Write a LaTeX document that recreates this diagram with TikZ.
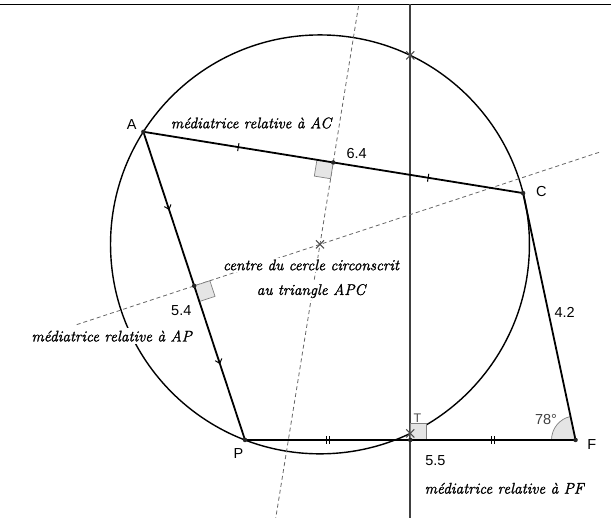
\documentclass[tikz,border=0pt]{standalone}
\usepackage{fontspec}
\newfontfamily\labelfont{Liberation Sans}
\newfontfamily\notefont[FakeBold=1.4]{Latin Modern Roman}
\usetikzlibrary{calc,decorations.markings,shapes.misc}

\begin{document}
\begin{tikzpicture}[
  x=60.1pt, y=60.1pt,
  side/.style={line width=1.8pt, draw=black},
  cercle/.style={line width=1.4pt, draw=black},
  mediane/.style={line width=1.8pt, draw=black!75},
  pointille/.style={line width=0.8pt, draw=black!60, dash pattern=on 4pt off 3pt},
  angbox/.style={fill=black!10, draw=black!50, line width=0.7pt},
  ptdot/.style={circle, fill=black!85, inner sep=0pt, minimum size=4.5pt},
  croix/.style={cross out, draw=black!70, line width=1.1pt, inner sep=0pt, minimum size=7pt},
  lbl/.style={font=\labelfont\fontsize{14.5}{16}\selectfont, inner sep=0pt},
  note/.style={font=\notefont\fontsize{15.4}{18}\selectfont\itshape, fill=white, inner sep=2pt},
  tick/.style={postaction={decorate}, decoration={markings,
    mark=at position 0.25 with {\draw[line width=1pt] (0,-4pt) -- (0,4pt);},
    mark=at position 0.75 with {\draw[line width=1pt] (0,-4pt) -- (0,4pt);}}},
  doubletick/.style={postaction={decorate}, decoration={markings,
    mark=at position 0.25 with {\draw[line width=1pt] (-1.5pt,-4pt) -- (-1.5pt,4pt) (1.5pt,-4pt) -- (1.5pt,4pt);},
    mark=at position 0.75 with {\draw[line width=1pt] (-1.5pt,-4pt) -- (-1.5pt,4pt) (1.5pt,-4pt) -- (1.5pt,4pt);}}},
  chevron/.style={postaction={decorate}, decoration={markings,
    mark=at position 0.25 with {\draw[line width=1pt] (-3.5pt,-3.5pt) -- (0.5pt,0) -- (-3.5pt,3.5pt);},
    mark=at position 0.75 with {\draw[line width=1pt] (-3.5pt,-3.5pt) -- (0.5pt,0) -- (-3.5pt,3.5pt);}}}
]
  \useasboundingbox (-4.077,-1.298) rectangle (6.090,7.321);

  % sommets (PF = 5.5, AP = 5.4, AC = 6.4, CF = 4.2)
  \coordinate (P) at (0,0);
  \coordinate (F) at (5.5,0);
  \coordinate (C) at (4.627,4.108);
  \coordinate (A) at (108.25:5.4);
  \coordinate (O) at (1.2475,3.2545);
  \coordinate (Mac) at ($(A)!0.5!(C)$);
  \coordinate (Map) at ($(A)!0.5!(P)$);
  \coordinate (Mpf) at ($(P)!0.5!(F)$);
  \coordinate (X1) at (2.75,6.399);
  \coordinate (X2) at (2.75,0.1096);

  % cadre
  \coordinate (hg) at (-4.077,7.247);
  \coordinate (hd) at (6.090,7.247);
  \draw[line width=1.2pt] (hg) -- (hd);

  % cercle circonscrit
  \draw[cercle] (O) circle (3.4854);

  % médiatrices
  \coordinate (Vh) at (2.75,7.247);
  \coordinate (Vb) at (2.75,-1.298);
  \draw[mediane] (Vh) -- (Vb);
  \draw[pointille] ($(Mac)!-1.908!(O)$) -- ($(Mac)!4.340!(O)$);
  \draw[pointille] ($(Map)!-0.934!(O)$) -- ($(Map)!3.24!(O)$);

  % angles droits
  \foreach \m/\u/\v in {Mac/A/O, Map/P/O, Mpf/F/X1} {
    \coordinate (q1) at ($(\m)!16.5pt!(\u)$);
    \coordinate (q2) at ($(\m)!16.5pt!(\v)$);
    \filldraw[angbox] (\m) -- (q1) -- ($(q1)+(q2)-(\m)$) -- (q2) -- cycle;
  }
  \filldraw[angbox] (F) -- ++(180:0.4) arc[start angle=180, end angle=102, radius=0.4] -- cycle;

  % côtés
  \draw[side, tick] (A) -- (C);
  \draw[side] (C) -- (F);
  \draw[side, doubletick] (P) -- (F);
  \draw[side, chevron] (A) -- (P);

  % points
  \foreach \p in {A, C, P, F, Mac, Map, Mpf}
    \node[ptdot] (d\p) at (\p) {};
  \node[croix] (cO) at (O) {};
  \node[croix] (cX1) at (X1) {};
  \node[croix] (cX2) at (X2) {};

  % étiquettes
  \node[lbl] (labA) at (-1.885,5.246) {A};
  \node[lbl] (labC) at (4.930,4.131) {C};
  \node[lbl] (labP) at (-0.108,-0.233) {P};
  \node[lbl] (labF) at (5.769,-0.083) {F};
  \node[lbl] (lAC) at (1.858,4.764) {6.4};
  \node[lbl] (lAP) at (-1.060,2.151) {5.4};
  \node[lbl] (lCF) at (5.319,2.125) {4.2};
  \node[lbl] (lPF) at (3.167,-0.344) {5.5};
  \node[lbl, text=black!75] (angF) at (5.008,0.333) {78°};
  \node[lbl, text=black!70, font=\labelfont\fontsize{12.5}{14}\selectfont] (labT) at (2.870,0.358) {T};

  \node[note] (nAC) at (0.100,5.275) {médiatrice relative à AC};
  \node[note] (nO1) at (1.098,2.912) {centre du cercle circonscrit};
  \node[note] (nO2) at (1.098,2.479) {au triangle APC};
  \node[note] (nAP) at (-2.218,1.730) {médiatrice relative à AP};
  \node[note] (nPF) at (4.313,-0.804) {médiatrice relative à PF};
\end{tikzpicture}
\end{document}
